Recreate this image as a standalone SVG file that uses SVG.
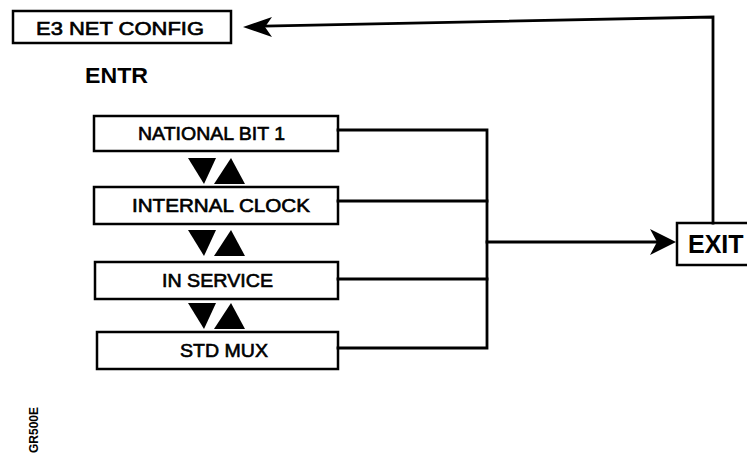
<svg xmlns="http://www.w3.org/2000/svg" width="747" height="455" viewBox="0 0 747 455">
<style>
.box{fill:#fff;stroke:#000;stroke-width:2.5}
.t{font-family:"Liberation Sans",Arial,sans-serif;font-size:18px;fill:#000;stroke:#000;stroke-width:0.6;text-anchor:start}
.b{font-family:"Liberation Sans",Arial,sans-serif;font-weight:bold;fill:#000}
.ln{fill:none;stroke:#000;stroke-width:2.8;stroke-linecap:square}
.tri{fill:#000}
</style>
<rect width="747" height="455" fill="#fff"/>
<g id="e3netconfig">
<rect class="box" x="13" y="11" width="218" height="32"/>
<text class="t" x="36" y="35" font-size="19" textLength="168" lengthAdjust="spacingAndGlyphs">E3 NET CONFIG</text>
</g>
<g id="entr">
<text class="b" x="85" y="83" font-size="22" textLength="63" lengthAdjust="spacingAndGlyphs">ENTR</text>
</g>
<g id="national">
<rect class="box" x="94" y="116" width="244" height="35"/>
<text class="t" x="138" y="140" textLength="147" lengthAdjust="spacingAndGlyphs">NATIONAL BIT 1</text>
</g>
<g id="internal">
<rect class="box" x="94" y="187" width="244" height="37"/>
<text class="t" x="132" y="212" textLength="178" lengthAdjust="spacingAndGlyphs">INTERNAL CLOCK</text>
</g>
<g id="inservice">
<rect class="box" x="95" y="262" width="243" height="37"/>
<text class="t" x="162" y="287" textLength="111" lengthAdjust="spacingAndGlyphs">IN SERVICE</text>
</g>
<g id="stdmux">
<rect class="box" x="97" y="332" width="241" height="37"/>
<text class="t" x="180" y="357" textLength="88" lengthAdjust="spacingAndGlyphs">STD MUX</text>
</g>
<g id="exit">
<rect class="box" x="677" y="223" width="90" height="42"/>
<text class="b" x="688" y="253" font-size="25">EXIT</text>
</g>
<g id="nav-triangles">
<polygon class="tri" points="188,158 216,158 204,184"/>
<polygon class="tri" points="214,184 245,184 231,158"/>
<polygon class="tri" points="188,230 216,230 204,256"/>
<polygon class="tri" points="214,256 245,256 231,230"/>
<polygon class="tri" points="188,303 216,303 204,329"/>
<polygon class="tri" points="214,329 245,329 231,303"/>
</g>
<g id="connectors">
<polyline class="ln" points="338,130 487,130 487,348 338,348"/>
<line class="ln" x1="338" y1="201" x2="487" y2="201"/>
<line class="ln" x1="338" y1="279" x2="487" y2="279"/>
<line class="ln" x1="487" y1="242" x2="658" y2="242"/>
<polygon class="tri" points="676,242 650,229 657,242 650,255"/>
<polyline class="ln" points="713,223 713,17 265,26"/>
<polygon class="tri" points="243,27 272,17 265,27 272,37"/>
</g>
<g id="figure-id">
<text class="b" font-size="12" transform="translate(38,453) rotate(-90)">GR500E</text>
</g>
</svg>
